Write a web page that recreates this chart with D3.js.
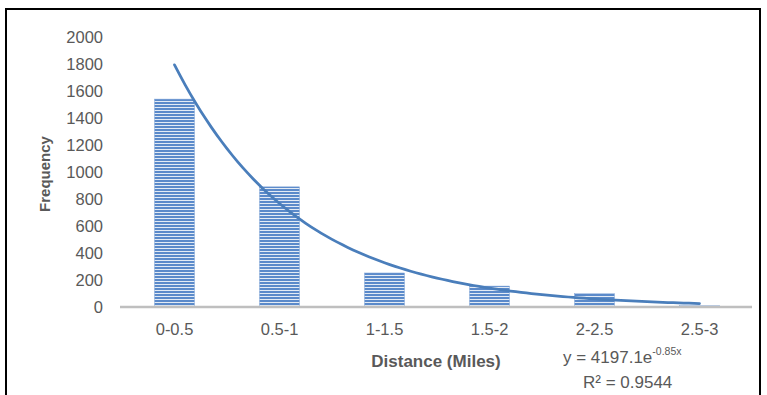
<!DOCTYPE html>
<html>
<head>
<meta charset="utf-8">
<script src="https://cdn.jsdelivr.net/npm/d3@7"></script>
<style>
  html, body { margin: 0; padding: 0; background: #fff; }
  svg { display: block; }
  text { font-family: "Liberation Sans", Arial, sans-serif; fill: #595959; }
</style>
</head>
<body>
<svg id="chart" width="767" height="395"></svg>
<script>
// ---- data ----
const categories = ["0-0.5", "0.5-1", "1-1.5", "1.5-2", "2-2.5", "2.5-3"];
const frequency  = [1540, 890, 252, 155, 100, 10];
const yTicks     = [0, 200, 400, 600, 800, 1000, 1200, 1400, 1600, 1800, 2000];
// exponential trendline reported on the chart: y = a * e^(b x), x = category index 1..n
const trendA = 4197.1;
const trendB = -0.85;
const trendLabel = "y = 4197.1e";
const trendExp = "-0.85x";
const r2Label = "R² = 0.9544";
const xTitle = "Distance (Miles)";
const yTitle = "Frequency";

// ---- layout ----
const svg = d3.select("#chart");
const plot = { left: 122, right: 752, top: 37, bottom: 307 };
const narrow = "'Liberation Sans Narrow', 'Liberation Sans', sans-serif";
const regular = "'Liberation Sans', Arial, sans-serif";

const x = d3.scaleBand().domain(categories).range([plot.left, plot.right])
  .paddingInner(0.62).paddingOuter(0.31);
const y = d3.scaleLinear().domain([0, 2000]).range([plot.bottom, plot.top]);

// outer border
svg.append("path")
  .attr("d", "M6,400 L6,9 L760,9 L760,400")
  .attr("fill", "none").attr("stroke", "#000").attr("stroke-width", 2);

// stripe pattern
const defs = svg.append("defs");
const pat = defs.append("pattern").attr("id", "stripes")
  .attr("patternUnits", "userSpaceOnUse").attr("width", 8).attr("height", 3);
pat.append("rect").attr("width", 8).attr("height", 3).attr("fill", "#e3ebf5");
pat.append("rect").attr("width", 8).attr("height", 2).attr("fill", "#5b8aca");

// bars
svg.append("g").selectAll("rect").data(categories).join("rect")
  .attr("x", d => x(d))
  .attr("width", x.bandwidth())
  .attr("y", (d, i) => y(frequency[i]))
  .attr("height", (d, i) => y(0) - y(frequency[i]))
  .attr("fill", "url(#stripes)")
  .attr("stroke", "#7da2d6").attr("stroke-width", 0.5);

// y axis labels (no line)
const yAxis = d3.axisLeft(y).tickValues(yTicks).tickFormat(d3.format("d")).tickSize(0).tickPadding(0);
const gy = svg.append("g").attr("transform", `translate(103,0)`).call(yAxis);
gy.select(".domain").remove();
gy.selectAll("text").style("font-size", "16.5px").style("fill", "#595959")
  .style("font-family", regular);

// x axis
const xAxis = d3.axisBottom(x).tickSize(0).tickPadding(16);
const gx = svg.append("g").attr("transform", `translate(0,${plot.bottom})`).call(xAxis);
gx.select(".domain").attr("stroke", "#bfbfbf").attr("stroke-width", 2.5)
  .attr("d", `M${plot.left - 2},0H${plot.right}`);
gx.selectAll("text").style("font-size", "16.5px").style("fill", "#595959")
  .style("font-family", regular);

// trendline
const trendPts = d3.range(1, categories.length + 0.001, 0.05).map(t => {
  const px = x(categories[0]) + x.bandwidth() / 2 + (t - 1) * x.step();
  return [px, y(trendA * Math.exp(trendB * t))];
});
svg.append("path").datum(trendPts)
  .attr("d", d3.line())
  .attr("fill", "none").attr("stroke", "#4a7ebb").attr("stroke-width", 2.75)
  .attr("stroke-linecap", "round");

// titles
svg.append("text").attr("x", 436).attr("y", 367).attr("text-anchor", "middle")
  .style("font-size", "17px").style("font-weight", "bold")
  .style("font-family", narrow)
  .text(xTitle);

svg.append("text").attr("transform", "translate(50,174) rotate(-90)")
  .attr("text-anchor", "middle")
  .style("font-size", "15px").style("font-weight", "bold")
  .style("font-family", narrow)
  .text(yTitle);

// trendline label
const eq = svg.append("text").attr("x", 563).attr("y", 363)
  .style("font-size", "17px")
  .style("font-family", narrow);
eq.append("tspan").text(trendLabel);
eq.append("tspan").attr("dy", -8).style("font-size", "10.5px").text(trendExp);

svg.append("text").attr("x", 583).attr("y", 388)
  .style("font-size", "17px")
  .style("font-family", narrow)
  .text(r2Label);
</script>
</body>
</html>
